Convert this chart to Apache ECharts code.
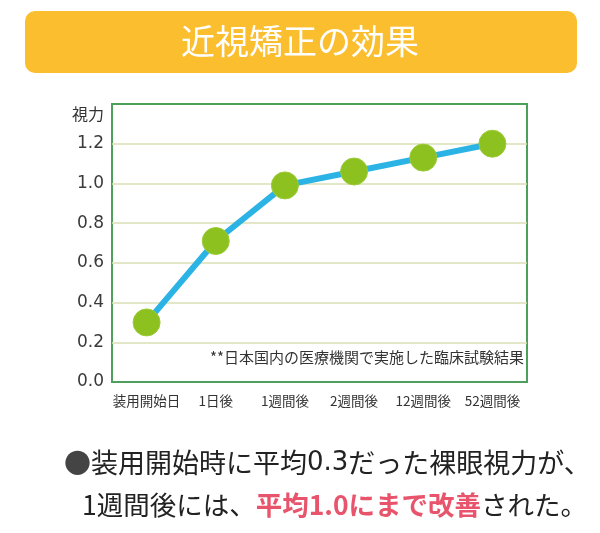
<!DOCTYPE html>
<html>
<head>
<meta charset="utf-8">
<script src="https://cdn.jsdelivr.net/npm/echarts@6/dist/echarts.min.js"></script>
<style>html,body{margin:0;padding:0;background:#fff;}#c{width:600px;height:533px;}</style>
</head>
<body>
<div id="c"></div>
<script>
var categories = ['装用開始日', '1日後', '1週間後', '2週間後', '12週間後', '52週間後'];
var visionValues = [0.30, 0.71, 0.99, 1.06, 1.13, 1.20];
var yTickLabels = ['0.0', '0.2', '0.4', '0.6', '0.8', '1.0', '1.2'];
var titleText = '近視矯正の効果';
var noteText = '**日本国内の医療機関で実施した臨床試験結果';
var yAxisName = '視力';

var JP = '"Noto Sans CJK JP", "Noto Sans", sans-serif';
var DV = '"DejaVu Sans", sans-serif';
var chart = echarts.init(document.getElementById('c'), null, {renderer: 'canvas'});
chart.setOption({
  backgroundColor: '#ffffff',
  animation: false,
  grid: {left: 112, right: 73, top: 104, bottom: 151, show: true, borderColor: '#4f9f5c', borderWidth: 2, backgroundColor: 'transparent'},
  xAxis: {
    type: 'category',
    data: categories,
    boundaryGap: true,
    axisLine: {show: false},
    axisTick: {show: false},
    axisLabel: {color: '#333', fontSize: 13.5, fontFamily: JP, margin: 12, interval: 0}
  },
  yAxis: {
    type: 'value',
    min: 0, max: 1.4, interval: 0.2,
    name: yAxisName,
    nameLocation: 'end',
    nameGap: 0,
    nameTextStyle: {color: '#333', fontSize: 16, fontFamily: JP, align: 'right', padding: [0, 8, -18, 0]},
    axisLine: {show: false},
    axisTick: {show: false},
    axisLabel: {
      color: '#3a3a3a', fontSize: 17, fontFamily: DV, margin: 8,
      formatter: function (v) {
        var i = Math.round(v / 0.2);
        return i < yTickLabels.length ? yTickLabels[i] : '';
      }
    },
    splitLine: {
      show: true,
      lineStyle: {color: ['transparent', '#d9dfb4', '#d9dfb4', '#d9dfb4', '#d9dfb4', '#d9dfb4', '#d9dfb4', 'transparent'], width: 1.5}
    }
  },
  series: [{
    type: 'line',
    data: visionValues,
    lineStyle: {color: '#2bb3e6', width: 6},
    symbol: 'circle',
    symbolSize: 27,
    itemStyle: {color: '#8cc11f', borderColor: '#9ccb3a', borderWidth: 1},
    z: 3
  }],
  graphic: [
    {type: 'rect', left: 25, top: 11, shape: {width: 552, height: 62, r: 10}, style: {fill: '#fbbe2f'}, z: 1},
    {type: 'text', x: 300, y: 41, style: {text: titleText, fill: '#ffffff', font: '34px ' + JP, textAlign: 'center', textVerticalAlign: 'middle'}, z: 2},
    {type: 'text', x: 524, y: 357, style: {text: noteText, fill: '#333', font: '15px ' + JP, textAlign: 'right', textVerticalAlign: 'middle'}, z: 5},
    {type: 'text', x: 64, y: 463, style: {
      text: '{b|●}{t|装用開始時に平均}{d|0.3}{t|だった裸眼視力が、}',
      textVerticalAlign: 'middle',
      rich: {
        b: {fill: '#444', font: '27px ' + JP},
        t: {fill: '#222', font: '27px ' + JP},
        d: {fill: '#222', font: '26px ' + DV}
      }
    }, z: 5},
    {type: 'text', x: 82, y: 505, style: {
      text: '{t|1週間後には、}{r|平均1.0にまで改善}{t|された。}',
      textVerticalAlign: 'middle',
      rich: {
        t: {fill: '#222', font: '26.5px ' + JP},
        r: {fill: '#e8546b', font: 'bold 26.5px ' + JP}
      }
    }, z: 5}
  ]
});
</script>
</body>
</html>
